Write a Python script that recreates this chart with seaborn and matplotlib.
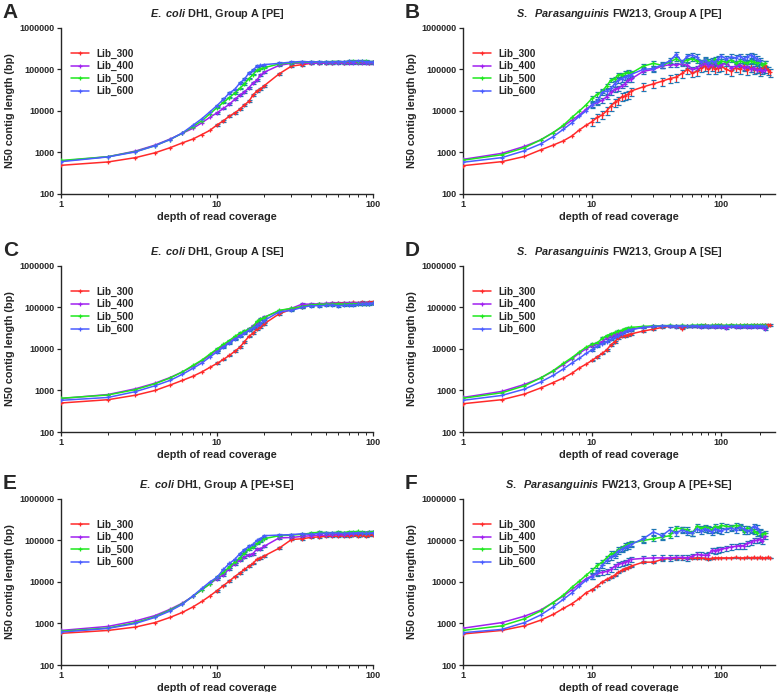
import numpy as np
import pandas as pd
import matplotlib
matplotlib.use("Agg")
import matplotlib.pyplot as plt
import matplotlib.ticker as mticker
import seaborn as sns

# x grids (depth of read coverage)
x_left = list(range(1, 21)) + list(range(25, 101, 5))
x_right = list(range(1, 21)) + list(range(25, 101, 5)) + list(range(110, 241, 10))

libs = ["Lib_300", "Lib_400", "Lib_500", "Lib_600"]
colors = ["#ff2a2a", "#a020f0", "#1ee81e", "#4a5cff"]

# ---- A: E. coli PE
a_300 = [490, 590, 750, 980, 1300, 1700, 2100, 2700, 3400, 4600, 5800, 7500, 9000, 11000, 14000, 17000, 24000, 30000, 34000, 40000,
         78000, 120000, 130000, 140000, 142000, 145000, 145000, 148000, 146000, 147000, 148000, 150000, 147000, 148000, 146000, 148000]
a_400 = [620, 790, 1080, 1500, 2100, 2900, 3800, 5200, 7000, 9000, 11500, 14500, 19000, 24000, 29000, 36000, 47000, 55000, 72000, 85000,
         125000, 140000, 142000, 140000, 140000, 142000, 141000, 140000, 142000, 140000, 141000, 140000, 142000, 140000, 142000, 143000]
a_500 = [640, 790, 1050, 1450, 2050, 2900, 4200, 5800, 8500, 12000, 16000, 21000, 27000, 35000, 45000, 60000, 75000, 95000, 105000, 110000,
         135000, 145000, 148000, 150000, 152000, 150000, 155000, 155000, 152000, 156000, 158000, 155000, 157000, 160000, 155000, 152000]
a_600 = [600, 780, 1030, 1450, 2050, 2950, 4500, 6500, 9500, 13500, 19000, 27000, 33000, 47000, 58000, 82000, 95000, 120000, 125000, 130000,
         140000, 150000, 155000, 152000, 153000, 150000, 152000, 155000, 153000, 158000, 155000, 160000, 157000, 155000, 154000, 150000]

# ---- C: E. coli SE
c_300 = [500, 600, 770, 1000, 1350, 1750, 2200, 2800, 3600, 4500, 5600, 7000, 8800, 11000, 15000, 20000, 24000, 30000, 34000, 40000,
         70000, 90000, 105000, 115000, 120000, 122000, 125000, 128000, 130000, 128000, 132000, 130000, 133000, 130000, 135000, 138000]
c_400 = [640, 800, 1100, 1500, 2050, 2800, 3800, 5200, 7000, 9500, 12000, 15000, 18000, 22000, 26000, 30000, 36000, 42000, 52000, 58000,
         82000, 95000, 120000, 120000, 122000, 125000, 128000, 125000, 127000, 130000, 128000, 130000, 127000, 130000, 128000, 130000]
c_500 = [650, 780, 1050, 1450, 2000, 2800, 4000, 5400, 7500, 10000, 13000, 16000, 20000, 24000, 27000, 30000, 34000, 46000, 52000, 57000,
         85000, 95000, 105000, 115000, 118000, 120000, 120000, 122000, 120000, 123000, 121000, 124000, 122000, 124000, 123000, 125000]
c_600 = [580, 680, 940, 1300, 1750, 2450, 3400, 4600, 6400, 8500, 11000, 14000, 17000, 20000, 24000, 28000, 32000, 36000, 41000, 48000,
         78000, 85000, 100000, 110000, 110000, 112000, 115000, 110000, 112000, 115000, 113000, 118000, 120000, 122000, 123000, 125000]

# ---- E: E. coli PE+SE
e_300 = [580, 680, 820, 1050, 1400, 1850, 2500, 3400, 4600, 6200, 8200, 10500, 13500, 16500, 20000, 24000, 28000, 35000, 38000, 42000,
         65000, 105000, 110000, 118000, 122000, 125000, 128000, 125000, 130000, 128000, 132000, 130000, 135000, 125000, 132000, 138000]
e_400 = [680, 850, 1150, 1550, 2200, 3100, 4500, 6500, 9000, 12000, 15000, 21000, 27000, 33000, 40000, 45000, 48000, 62000, 63000, 72000,
         115000, 118000, 125000, 130000, 135000, 132000, 138000, 140000, 135000, 142000, 145000, 150000, 148000, 155000, 158000, 160000]
e_500 = [650, 780, 1050, 1450, 2100, 3000, 4500, 6500, 9000, 13000, 17000, 23000, 30000, 38000, 50000, 62000, 70000, 85000, 95000, 110000,
         130000, 135000, 140000, 150000, 158000, 155000, 152000, 160000, 155000, 162000, 160000, 165000, 158000, 155000, 160000, 162000]
e_600 = [620, 760, 1000, 1400, 2000, 2900, 4600, 7000, 10000, 13000, 20000, 28000, 35000, 48000, 60000, 72000, 80000, 100000, 110000, 130000,
         135000, 138000, 145000, 140000, 148000, 150000, 152000, 150000, 148000, 152000, 150000, 155000, 150000, 148000, 150000, 152000]

# ---- B: S. Parasanguinis PE
b_300 = [480, 600, 800, 1150, 1500, 1900, 2500, 3500, 4500, 5500, 7000, 8000, 10000, 13000, 16000, 18000, 22000, 23000, 25000, 30000,
         38000, 45000, 52000, 60000, 65000, 80000, 100000, 82000, 90000, 110000, 120000, 100000, 120000, 100000, 110000, 120000,
         100000, 90000, 110000, 100000, 120000, 95000, 110000, 100000, 105000, 90000, 110000, 130000, 95000, 85000]
b_400 = [680, 950, 1400, 2000, 3000, 4300, 6000, 8000, 11000, 14000, 16000, 18000, 22000, 28000, 33000, 35000, 40000, 45000, 55000, 58000,
         90000, 100000, 120000, 130000, 130000, 135000, 125000, 100000, 110000, 130000, 140000, 120000, 130000, 150000, 120000, 130000,
         140000, 110000, 120000, 130000, 110000, 120000, 100000, 110000, 95000, 100000, 90000, 95000]
b_500 = [650, 880, 1300, 2000, 3000, 4500, 7000, 10000, 14000, 20000, 25000, 30000, 40000, 55000, 60000, 75000, 75000, 80000, 85000, 80000,
         120000, 140000, 125000, 150000, 180000, 150000, 170000, 180000, 160000, 150000, 170000, 160000, 150000, 180000, 140000, 160000,
         150000, 170000, 140000, 160000, 150000, 140000, 160000, 150000, 140000, 150000, 130000, 140000]
b_600 = [580, 750, 1100, 1600, 2400, 3600, 5200, 7500, 10000, 14000, 17000, 28000, 30000, 35000, 45000, 55000, 60000, 65000, 70000, 75000,
         100000, 105000, 130000, 160000, 230000, 150000, 210000, 220000, 200000, 150000, 170000, 140000, 160000, 150000, 180000, 210000,
         180000, 200000, 190000, 210000, 180000, 200000, 220000, 200000, 180000, 160000]

# ---- D: S. Parasanguinis SE
d_300 = [480, 600, 820, 1150, 1550, 2000, 2600, 3500, 4300, 5300, 6500, 7800, 9500, 12500, 15000, 18000, 20000, 21000, 22000, 23000,
         27000, 30000, 33000, 35000, 35000, 31000, 35000, 36000, 35000, 36000, 37000, 36000, 36000, 37000, 36000, 37000,
         36000, 37000, 36000, 37000, 36000, 37000, 36000, 37000, 37000, 36000, 37000, 38000, 38000, 38000]
d_400 = [680, 950, 1400, 2000, 2900, 4200, 5800, 8000, 10000, 12000, 13500, 15000, 18000, 20000, 22000, 24000, 26000, 28000, 29000, 30000,
         33000, 35000, 35000, 35000, 34000, 35000, 35000, 36000, 35000, 34000, 35000, 34000, 35000, 33000, 35000, 34000,
         32000, 35000, 34000, 33000, 35000, 34000, 33000, 35000, 34000, 35000, 33000, 30000]
d_500 = [650, 880, 1300, 2000, 3000, 4500, 6200, 8500, 11000, 13000, 14000, 18000, 21000, 23000, 25000, 27000, 28000, 31000, 32000, 33000,
         35000, 36000, 36000, 37000, 36000, 37000, 36000, 37000, 37000, 38000, 37000, 36000, 37000, 37000, 38000, 37000,
         37000, 38000, 37000, 37000, 38000, 37000, 38000, 38000, 37000, 38000, 37000, 38000]
d_600 = [580, 760, 1080, 1600, 2300, 3300, 4600, 6000, 7800, 9500, 11500, 13500, 15000, 17000, 19000, 21000, 23000, 26000, 28000, 29000,
         33000, 35000, 36000, 36000, 36000, 36000, 35000, 36000, 36000, 35000, 36000, 36000, 35000, 36000, 36000, 35000,
         36000, 35000, 36000, 36000, 35000, 36000, 36000, 35000, 36000, 36000, 35000, 36000]

# ---- F: S. Parasanguinis PE+SE
f_300 = [560, 680, 880, 1200, 1650, 2300, 3000, 4000, 5500, 6500, 8000, 10000, 11500, 13000, 14500, 17000, 19000, 21000, 22000, 24000,
         30000, 30000, 35000, 37000, 37000, 38000, 37000, 38000, 37000, 38000, 37000, 35000, 37000, 38000, 38000, 38000,
         38000, 38000, 39000, 38000, 38000, 39000, 38000, 39000, 38000, 39000, 38000, 38000, 39000, 38000]
f_400 = [770, 1050, 1500, 2100, 3200, 4600, 6500, 9000, 12000, 14000, 16000, 17000, 18000, 20000, 24000, 27000, 28000, 30000, 32000, 35000,
         37000, 38000, 38000, 38000, 39000, 39000, 38000, 42000, 46000, 45000, 44000, 45000, 58000, 57000, 60000, 62000,
         65000, 70000, 72000, 75000, 75000, 85000, 90000, 100000, 100000, 110000, 95000, 130000]
f_500 = [680, 880, 1300, 2000, 3200, 4800, 7500, 10500, 14500, 19000, 25000, 30000, 38000, 48000, 50000, 60000, 65000, 75000, 80000, 85000,
         100000, 110000, 120000, 130000, 200000, 190000, 180000, 150000, 220000, 200000, 210000, 200000, 180000, 220000, 200000, 230000,
         220000, 210000, 230000, 220000, 170000, 200000, 190000, 170000, 150000, 160000, 140000, 150000]
f_600 = [600, 720, 1050, 1600, 2500, 3800, 5500, 8000, 11000, 13500, 17000, 25000, 33000, 40000, 45000, 55000, 62000, 68000, 75000, 80000,
         110000, 160000, 130000, 180000, 150000, 180000, 160000, 150000, 190000, 170000, 190000, 180000, 160000, 190000, 180000, 170000,
         190000, 200000, 180000, 210000, 190000, 170000, 180000, 220000, 200000, 160000]

# relative size of the error bars per library (shown from depth 10 on)
err_left = [0.05, 0.05, 0.04, 0.05]
err_B = [0.22, 0.12, 0.12, 0.15]
err_D = [0.05, 0.05, 0.05, 0.04]
err_F = [0.02, 0.15, 0.14, 0.15]
err_from = 10

panels = [
    ("A", r"$\mathit{E.\ coli}$ DH1, Group A [PE]", x_left, [a_300, a_400, a_500, a_600], err_left, 100),
    ("B", r"$\mathit{S.\ \ Parasanguinis}$ FW213, Group A [PE]", x_right, [b_300, b_400, b_500, b_600], err_B, 262),
    ("C", r"$\mathit{E.\ coli}$ DH1, Group A [SE]", x_left, [c_300, c_400, c_500, c_600], err_left, 100),
    ("D", r"$\mathit{S.\ \ Parasanguinis}$ FW213, Group A [SE]", x_right, [d_300, d_400, d_500, d_600], err_D, 262),
    ("E", r"$\mathit{E.\ coli}$ DH1, Group A [PE+SE]", x_left, [e_300, e_400, e_500, e_600], err_left, 100),
    ("F", r"$\mathit{S.\ \ Parasanguinis}$ FW213, Group A [PE+SE]", x_right, [f_300, f_400, f_500, f_600], err_F, 262),
]

sns.set_style("ticks")
plt.rcParams["font.family"] = ["Liberation Sans", "DejaVu Sans"]
plt.rcParams["font.weight"] = "bold"
plt.rcParams["axes.labelweight"] = "bold"
plt.rcParams["mathtext.fontset"] = "custom"
plt.rcParams["mathtext.it"] = "Liberation Sans:italic:bold"
plt.rcParams["mathtext.rm"] = "Liberation Sans:bold"

fig = plt.figure(figsize=(7.78, 6.92), dpi=100)

col_x = [0.0784, 0.595]
row_y = [0.7197, 0.3757, 0.039]
w, h = 0.401, 0.240

for i, (letter, title, xs, series, errs, xmax) in enumerate(panels):
    r, c = divmod(i, 2)
    ax = fig.add_axes([col_x[c], row_y[r], w, h])

    rows = []
    for lib, ys in zip(libs, series):
        for x, y in zip(xs, ys):
            rows.append({"depth": x, "n50": y, "library": lib})
    df = pd.DataFrame(rows)

    for lib, ys, col, ef in zip(libs, series, colors, errs):
        ys = np.array(ys, dtype=float)
        xx = np.array(xs[:len(ys)], dtype=float)
        m = xx >= err_from
        ax.errorbar(xx[m], ys[m], yerr=ys[m] * ef, fmt="none", ecolor=col,
                    elinewidth=0.9, capsize=1.8, capthick=0.9, zorder=2)

    sns.lineplot(data=df, x="depth", y="n50", hue="library", hue_order=libs,
                 palette=colors, marker="+", markersize=3.5, markeredgewidth=0.9,
                 linewidth=1.1, ax=ax, zorder=3)
    # seaborn draws marker edges white; "+" markers need the line colour
    for ln in ax.lines:
        ln.set_markeredgecolor(ln.get_color())

    ax.set_xscale("log")
    ax.set_yscale("log")
    ax.set_xlim(1, xmax)
    ax.set_ylim(100, 1000000)
    ax.set_yticks([100, 1000, 10000, 100000, 1000000])
    ax.yaxis.set_major_formatter(mticker.FuncFormatter(lambda v, _: f"{v:.0f}"))
    ax.yaxis.set_minor_locator(mticker.NullLocator())
    ax.set_xticks([1, 10, 100])
    ax.xaxis.set_major_formatter(mticker.FuncFormatter(lambda v, _: f"{v:.0f}"))
    ax.tick_params(axis="both", which="major", labelsize=6.5, length=3, width=0.9, pad=1.5)
    ax.tick_params(axis="x", which="minor", length=1.8, width=0.7)
    for s in ["left", "bottom"]:
        ax.spines[s].set_linewidth(1.0)
    sns.despine(ax=ax)

    ax.set_xlabel("depth of read coverage", fontsize=7.8, fontweight="bold", labelpad=2)
    ax.set_ylabel("N50 contig length (bp)", fontsize=7.8, fontweight="bold", labelpad=3)
    ax.set_title(title, fontsize=7.8, fontweight="bold", pad=8)

    leg = ax.legend(loc="upper left", bbox_to_anchor=(0.02, 0.9), frameon=False,
                    fontsize=7.2, handlelength=1.8, handletextpad=0.7,
                    labelspacing=0.25, borderaxespad=0)
    for t in leg.get_texts():
        t.set_fontweight("bold")
    for hd in leg.legend_handles:
        hd.set_markeredgecolor(hd.get_color())

    fig.text(col_x[c] - 0.075, row_y[r] + h + 0.022, letter, fontsize=15,
             fontweight="bold", va="center", ha="left")

fig.savefig("out.png", dpi=100)
